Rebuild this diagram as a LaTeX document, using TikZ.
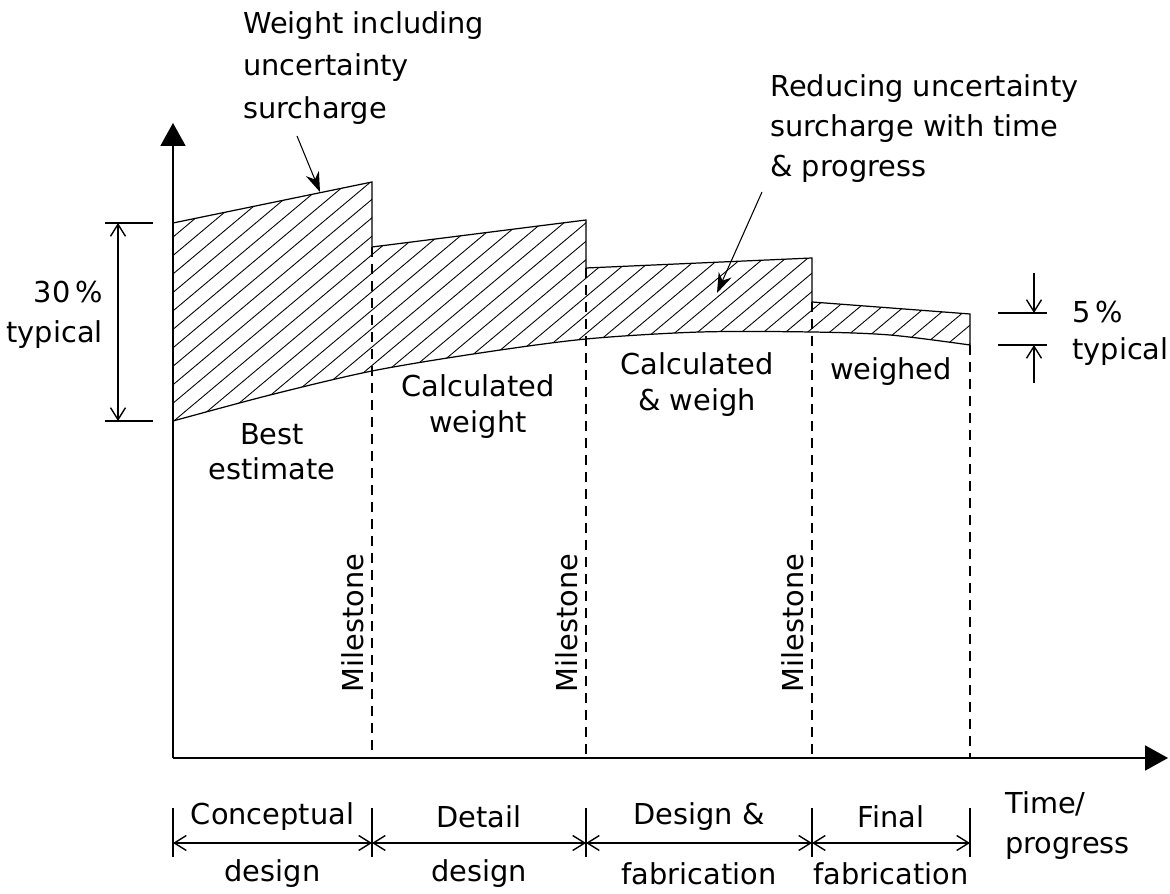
\documentclass[tikz,border=0pt]{standalone}
\usepackage{fontspec}
\setmainfont{DejaVu Sans}
\usetikzlibrary{arrows.meta}

% outline of the surcharge band (top steps, smooth best-estimate curve below)
\newcommand{\surchargeoutline}{(17.3,67.0) -- (37.2,71.1) -- (37.2,64.6) -- (58.6,67.3) -- (58.6,62.5) -- (81.2,63.5) -- (81.2,59.1) -- (97.0,57.9) -- (97.0,54.8) -- plot[smooth] coordinates {(97.0,54.8) (89.0,55.8) (81.2,56.1) (70.0,56.1) (58.6,55.4) (48.0,54.0) (37.2,52.2) (27.0,49.8) (17.3,47.2)} -- cycle}

\begin{document}
\begin{tikzpicture}[x=2mm,y=2mm,
    axis/.style={line width=1.1pt, -{Triangle[length=4.6mm,width=5mm]}},
    hatch/.style={line width=0.5pt},
    edge/.style={line width=0.7pt},
    milestone/.style={line width=0.7pt, dash pattern=on 2mm off 1.4mm},
    dim/.style={line width=0.8pt, {Straight Barb[length=2.4mm,width=3mm]}-{Straight Barb[length=2.4mm,width=3mm]}},
    halfdim/.style={line width=0.8pt, -{Straight Barb[length=2.4mm,width=3mm]}},
    pointer/.style={line width=0.6pt, -{Stealth[length=4mm,width=2.8mm]}},
    txt/.style={font=\fontsize{16.4}{20.5}\selectfont, align=center, inner sep=0pt}]
  \useasboundingbox (0,0) rectangle (117,89.3);

  % hatched band
  \begin{scope}
    \clip \surchargeoutline;
    \foreach \i in {-10,...,45}
      \draw[hatch] (\i*2.2,40) -- ++(40:55);
  \end{scope}
  \draw[edge] \surchargeoutline;

  % axes
  \coordinate (O) at (17.3,13.5);
  \coordinate (ytop) at (17.3,77.0);
  \coordinate (xend) at (116.8,13.5);
  \draw[axis] (O) -- (ytop);
  \draw[axis] (O) -- (xend);

  % milestones
  \foreach \x/\y in {37.2/64.6, 58.6/62.5, 81.2/59.1, 97.0/54.8}
    \draw[milestone] (\x,\y) -- (\x,13.5);
  \node[txt, rotate=90] (ms1) at (35.3,27.0) {Milestone};
  \node[txt, rotate=90] (ms2) at (56.7,27.0) {Milestone};
  \node[txt, rotate=90] (ms3) at (79.3,27.0) {Milestone};

  % labels inside phases
  \node[txt, font=\fontsize{16.4}{20}\selectfont] (best) at (27.2,44.1) {Best\\estimate};
  \node[txt] (calc) at (47.8,48.6) {Calculated\\weight};
  \node[txt] (calcw) at (69.7,50.8) {Calculated\\\& weigh};
  \node[txt] (weighed) at (89.1,52.1) {weighed};

  % 30% dimension
  \draw[edge] (10.5,67.0) -- (15.3,67.0);
  \draw[edge] (10.5,47.2) -- (15.3,47.2);
  \coordinate (d30a) at (11.8,67.0);
  \coordinate (d30b) at (11.8,47.2);
  \draw[dim] (d30a) -- (d30b);
  \node[txt, align=right, anchor=east, font=\fontsize{16.4}{22.8}\selectfont] (pct30) at (10.3,57.8) {30\,\%\\typical};

  % 5% dimension
  \draw[edge] (99.8,58.0) -- (104.7,58.0);
  \draw[edge] (99.8,54.8) -- (104.7,54.8);
  \coordinate (d5a) at (103.4,62.0);
  \coordinate (d5b) at (103.4,58.0);
  \coordinate (d5c) at (103.4,51.0);
  \coordinate (d5d) at (103.4,54.8);
  \draw[halfdim] (d5a) -- (d5b);
  \draw[halfdim] (d5c) -- (d5d);
  \node[txt, anchor=west] (pct5) at (107.2,58.1) {5\,\%};
  \node[txt, anchor=west] (typ5) at (107.2,54.1) {typical};

  % annotations
  \node[txt, align=left, anchor=north west, font=\fontsize{16.4}{24.3}\selectfont] (wtext) at (24.3,88.2) {Weight including\\uncertainty\\surcharge};
  \coordinate (wfrom) at (29.7,75.7);
  \coordinate (wtip) at (32.0,70.1);
  \draw[pointer] (wfrom) -- (wtip);
  \node[txt, align=left, anchor=north west, font=\fontsize{16.4}{22.8}\selectfont] (rtext) at (77.0,81.9) {Reducing uncertainty\\surcharge with time\\\& progress};
  \coordinate (rfrom) at (76.2,70.1);
  \coordinate (rtip) at (71.7,60.0);
  \draw[pointer] (rfrom) -- (rtip);

  % phases below the time axis
  \foreach \x [count=\n] in {17.3,37.2,58.6,81.2,97.0} {
    \draw[edge] (\x,8.5) -- (\x,3.6);
    \coordinate (p\n) at (\x,5.0);
  }
  \draw[dim] (p1) -- (p2);
  \draw[dim] (p2) -- (p3);
  \draw[dim] (p3) -- (p4);
  \draw[dim] (p4) -- (p5);
  \node[txt] (ph1a) at (27.25,7.6) {Conceptual};
  \node[txt] (ph1b) at (27.25,1.9) {design};
  \node[txt] (ph2a) at (47.9,7.6) {Detail};
  \node[txt] (ph2b) at (47.9,1.9) {design};
  \node[txt] (ph3a) at (69.9,7.6) {Design \&};
  \node[txt] (ph3b) at (69.9,1.9) {fabrication};
  \node[txt] (ph4a) at (89.1,7.6) {Final};
  \node[txt] (ph4b) at (89.1,1.9) {fabrication};
  \node[txt, align=left, anchor=north west, font=\fontsize{16.4}{22.8}\selectfont] (time) at (100.5,10.2) {Time/\\progress};
\end{tikzpicture}
\end{document}
